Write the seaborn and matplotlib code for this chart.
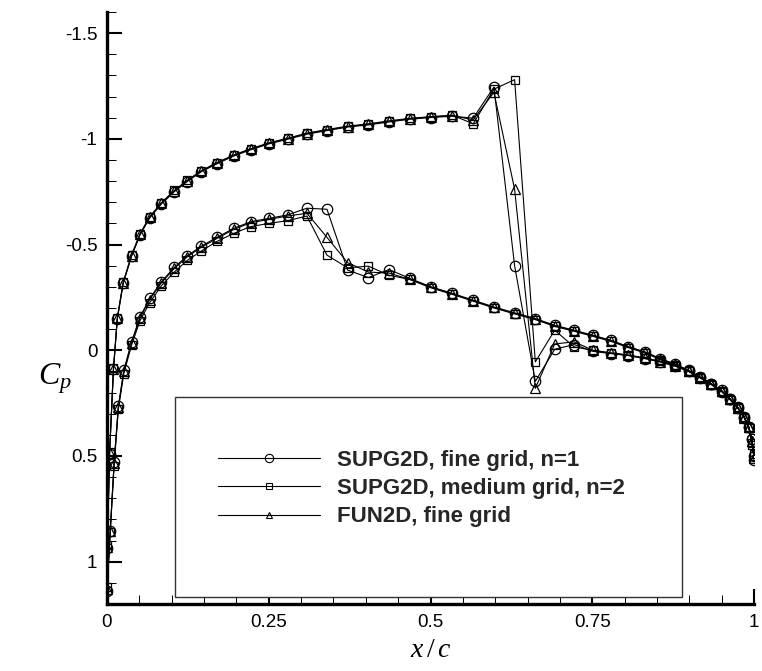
import numpy as np
import pandas as pd
import matplotlib
matplotlib.use("Agg")
import matplotlib.pyplot as plt
from matplotlib.lines import Line2D
from matplotlib.patches import Rectangle
import seaborn as sns

# ---------------- data ----------------
series_names = ["SUPG2D, fine grid, n=1", "SUPG2D, medium grid, n=2", "FUN2D, fine grid"]

# upper (suction) surface stations, leading edge -> trailing edge
x_upper = [0.0005, 0.004, 0.010, 0.016, 0.025, 0.038, 0.051, 0.066, 0.084, 0.104,
           0.124, 0.146, 0.170, 0.196, 0.222, 0.250, 0.279, 0.309, 0.340, 0.372,
           0.404, 0.436, 0.468, 0.501, 0.534, 0.566, 0.598, 0.630, 0.662, 0.692,
           0.722, 0.751, 0.779, 0.806, 0.832, 0.855, 0.878, 0.899, 0.917, 0.934,
           0.950, 0.963, 0.975, 0.985, 0.992, 0.997, 1.0]
# lower surface stations, leading edge -> trailing edge
x_lower = [0.0, 0.005, 0.011, 0.0175, 0.026, 0.038, 0.051, 0.066, 0.084, 0.104,
           0.124, 0.146, 0.170, 0.196, 0.222, 0.250, 0.279, 0.309, 0.340, 0.372,
           0.404, 0.436, 0.468, 0.501, 0.534, 0.566, 0.598, 0.630, 0.662, 0.692,
           0.722, 0.751, 0.779, 0.806, 0.832, 0.855, 0.878, 0.899, 0.917, 0.934,
           0.950, 0.963, 0.975, 0.985, 0.992, 0.997, 1.0]

cp_upper_fine = [0.935, 0.49, 0.09, -0.15, -0.316, -0.445, -0.545, -0.626, -0.692, -0.750,
                 -0.798, -0.845, -0.882, -0.919, -0.948, -0.976, -0.998, -1.022, -1.039, -1.056,
                 -1.066, -1.080, -1.093, -1.101, -1.107, -1.098, -1.245, -0.40, 0.147, -0.005,
                 -0.027, 0.005, 0.016, 0.025, 0.040, 0.055, 0.075, 0.10, 0.13, 0.16,
                 0.195, 0.232, 0.272, 0.318, 0.365, 0.42, 0.50]
cp_upper_medium = [0.92, 0.48, 0.085, -0.155, -0.322, -0.452, -0.552, -0.632, -0.698, -0.756,
                   -0.804, -0.850, -0.888, -0.924, -0.953, -0.981, -1.003, -1.027, -1.044, -1.060,
                   -1.071, -1.085, -1.097, -1.105, -1.112, -1.071, -1.235, -1.28, 0.055, -0.095,
                   -0.016, 0.0, 0.012, 0.022, 0.037, 0.052, 0.072, 0.098, 0.128, 0.16,
                   0.192, 0.23, 0.27, 0.315, 0.362, 0.44, 0.49]
cp_upper_fun = [0.93, 0.485, 0.088, -0.152, -0.318, -0.448, -0.548, -0.629, -0.695, -0.753,
                -0.801, -0.848, -0.885, -0.922, -0.951, -0.979, -1.001, -1.025, -1.042, -1.058,
                -1.069, -1.083, -1.095, -1.104, -1.110, -1.090, -1.22, -0.762, 0.18, -0.03,
                -0.04, 0.0, 0.014, 0.024, 0.038, 0.054, 0.074, 0.099, 0.129, 0.16,
                0.194, 0.231, 0.271, 0.317, 0.364, 0.43, 0.51]

cp_lower_fine = [1.14, 0.853, 0.53, 0.265, 0.095, -0.04, -0.158, -0.245, -0.324, -0.392,
                 -0.447, -0.493, -0.534, -0.577, -0.608, -0.624, -0.64, -0.672, -0.667, -0.379,
                 -0.344, -0.382, -0.34, -0.30, -0.269, -0.237, -0.205, -0.177, -0.150, -0.118,
                 -0.095, -0.071, -0.047, -0.017, 0.008, 0.039, 0.065, 0.095, 0.126, 0.158,
                 0.19, 0.229, 0.27, 0.316, 0.363, 0.418, 0.52]
cp_lower_medium = [1.12, 0.86, 0.545, 0.28, 0.11, -0.025, -0.14, -0.225, -0.305, -0.37,
                   -0.425, -0.47, -0.515, -0.553, -0.585, -0.60, -0.613, -0.635, -0.45, -0.39,
                   -0.398, -0.355, -0.335, -0.295, -0.264, -0.232, -0.200, -0.172, -0.145, -0.113,
                   -0.090, -0.066, -0.042, -0.012, 0.013, 0.044, 0.07, 0.10, 0.131, 0.163,
                   0.195, 0.234, 0.275, 0.321, 0.368, 0.45, 0.50]
cp_lower_fun = [1.13, 0.855, 0.535, 0.27, 0.1, -0.035, -0.153, -0.24, -0.319, -0.387,
                -0.442, -0.488, -0.529, -0.572, -0.603, -0.619, -0.635, -0.648, -0.534, -0.414,
                -0.37, -0.365, -0.335, -0.298, -0.267, -0.235, -0.203, -0.175, -0.148, -0.116,
                -0.093, -0.069, -0.045, -0.015, 0.01, 0.041, 0.067, 0.097, 0.128, 0.16,
                0.192, 0.231, 0.272, 0.318, 0.365, 0.43, 0.51]

upper_cp = [cp_upper_fine, cp_upper_medium, cp_upper_fun]
lower_cp = [cp_lower_fine, cp_lower_medium, cp_lower_fun]

# build long table: each series traced TE(lower) -> LE -> TE(upper)
rows = []
for name, cpl, cpu in zip(series_names, lower_cp, upper_cp):
    k = 0
    for xv, cv in zip(x_lower[::-1], cpl[::-1]):
        rows.append((name, k, xv, cv)); k += 1
    for xv, cv in zip(x_upper, cpu):
        rows.append((name, k, xv, cv)); k += 1
df = pd.DataFrame(rows, columns=["series", "order", "x", "Cp"])

# ---------------- style ----------------
sns.set_theme(style="white")
plt.rcParams["font.family"] = ["Liberation Sans", "DejaVu Sans"]
plt.rcParams["mathtext.fontset"] = "custom"
plt.rcParams["mathtext.it"] = "Liberation Serif:italic"
plt.rcParams["mathtext.rm"] = "Liberation Serif"

fig = plt.figure(figsize=(7.62, 6.71), dpi=100)
ax = fig.add_axes([107 / 762, 67 / 671, 647 / 762, 592 / 671])

markers = {series_names[0]: "o", series_names[1]: "s", series_names[2]: "^"}
sizes = {"o": 7.5, "s": 5.5, "^": 6.5}

for name in series_names:
    sub = df[df["series"] == name]
    m = markers[name]
    sns.lineplot(data=sub, x="x", y="Cp", sort=False, estimator=None, ax=ax,
                 color="black", linewidth=0.8, marker=m, markersize=sizes[m],
                 markerfacecolor="none", mec="black", mew=0.9, legend=False)

ax.set_xlim(0, 1.0)
ax.set_ylim(1.2, -1.6)

ax.set_xticks([0, 0.25, 0.5, 0.75, 1.0])
ax.set_xticklabels(["0", "0.25", "0.5", "0.75", "1"])
ax.set_xticks(np.arange(0, 1.0001, 0.05), minor=True)
ax.set_yticks([-1.5, -1, -0.5, 0, 0.5, 1])
ax.set_yticklabels(["-1.5", "-1", "-0.5", "0", "0.5", "1"])
ax.set_yticks(np.arange(-1.6, 1.2001, 0.1), minor=True)

ax.tick_params(which="major", direction="in", length=11, width=1.5,
               labelsize=13.5, colors="black", pad=7)
ax.tick_params(which="minor", direction="in", length=6.5, width=0.75, colors="black")
ax.tick_params(axis="y", which="both", left=True, right=False)
ax.tick_params(axis="x", which="both", bottom=True, top=False)

for side in ["top", "right"]:
    ax.spines[side].set_visible(False)
for side in ["left", "bottom"]:
    ax.spines[side].set_linewidth(2.4)
    ax.spines[side].set_color("black")

ax.set_xlabel(r"$x\,/\,c$", fontsize=20, color="black")
ax.xaxis.set_label_coords(0.5, -0.055)
ax.set_ylabel(r"$C_p$", fontsize=23, rotation=0, color="black", va="center", ha="center")
ax.yaxis.set_label_coords(-0.08, 0.38)

# legend box
box = Rectangle((0.105, 0.012), 0.784, 0.338, transform=ax.transAxes,
                facecolor="white", edgecolor="#333333", linewidth=1.0, zorder=5)
ax.add_patch(box)

handles = [Line2D([], [], color="black", linewidth=0.8, marker=markers[n],
                  markersize=sizes[markers[n]] - 1.5, markerfacecolor="none",
                  markeredgecolor="black", markeredgewidth=0.8) for n in series_names]
leg = ax.legend(handles, series_names, loc="upper left",
                bbox_to_anchor=(0.1716, 0.2606), frameon=False, borderpad=0,
                borderaxespad=0, handlelength=4.6, handletextpad=0.75,
                labelspacing=0.33, prop={"family": "Liberation Sans", "weight": "bold", "size": 16})
leg.set_zorder(6)

fig.savefig("out.png", dpi=100)
